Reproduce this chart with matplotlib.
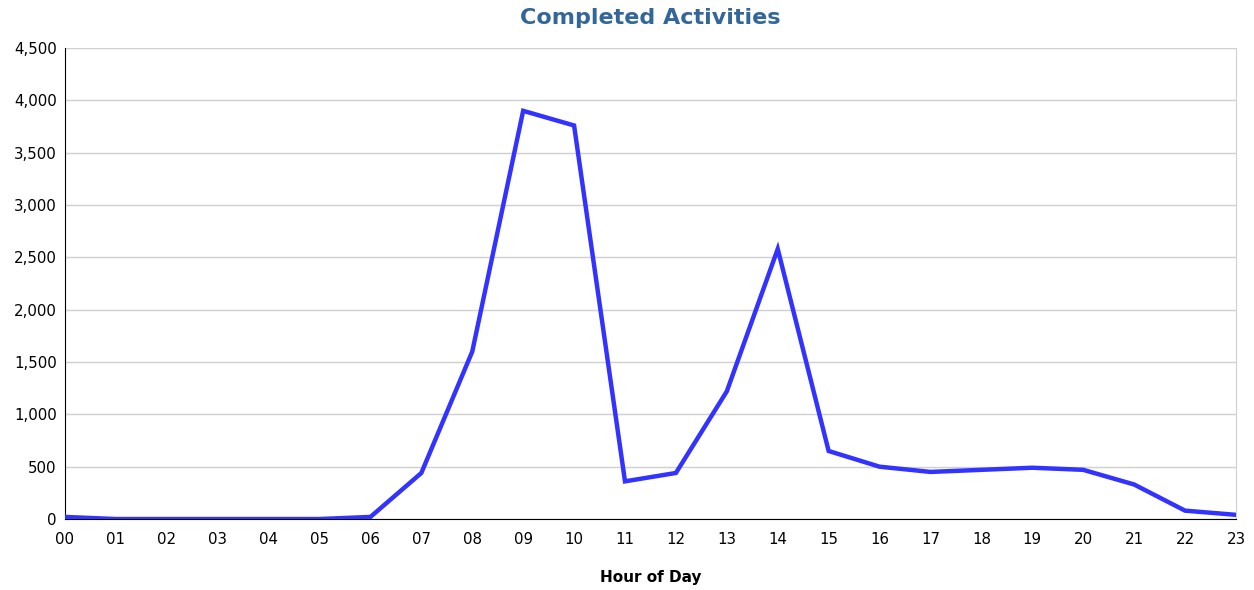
import matplotlib.pyplot as plt
import matplotlib.ticker as mticker

plt.rcParams["font.family"] = ["DejaVu Sans"]

# hourly completed activities
hours = [f"{h:02d}" for h in range(24)]
completed = [20, 0, 0, 0, 0, 0, 20, 440, 1600, 3900, 3760, 360,
             440, 1220, 2580, 650, 500, 450, 470, 490, 470, 330, 80, 40]

fig = plt.figure(figsize=(12.54, 5.9), dpi=100)
ax = fig.add_axes([0.0518, 0.1203, 0.9338, 0.7983])

ax.plot(range(len(hours)), completed, color="#3333FF", lw=3.2,
        solid_joinstyle="miter", zorder=3)

ax.set_xlim(0, 23)
ax.set_ylim(0, 4500)
ax.set_xticks(range(len(hours)))
ax.set_xticklabels(hours)
ax.yaxis.set_major_locator(mticker.MultipleLocator(500))
ax.yaxis.set_major_formatter(mticker.FuncFormatter(lambda v, p: f"{int(v):,}"))
ax.tick_params(length=0, labelsize=10.8)
ax.tick_params(axis="x", pad=9)
ax.tick_params(axis="y", pad=6)
ax.grid(axis="y", color="#D0D0D0", lw=1)
ax.set_axisbelow(True)

ax.spines["top"].set_visible(False)
ax.spines["right"].set_color("#D0D0D0")
ax.spines["left"].set_color("black")
ax.spines["bottom"].set_color("black")

ax.set_title("Completed Activities", color="#336699", fontsize=16,
             fontweight="bold", pad=17)
ax.set_xlabel("Hour of Day", fontsize=11, fontweight="bold", labelpad=17)

fig.savefig("out.png", dpi=100)
